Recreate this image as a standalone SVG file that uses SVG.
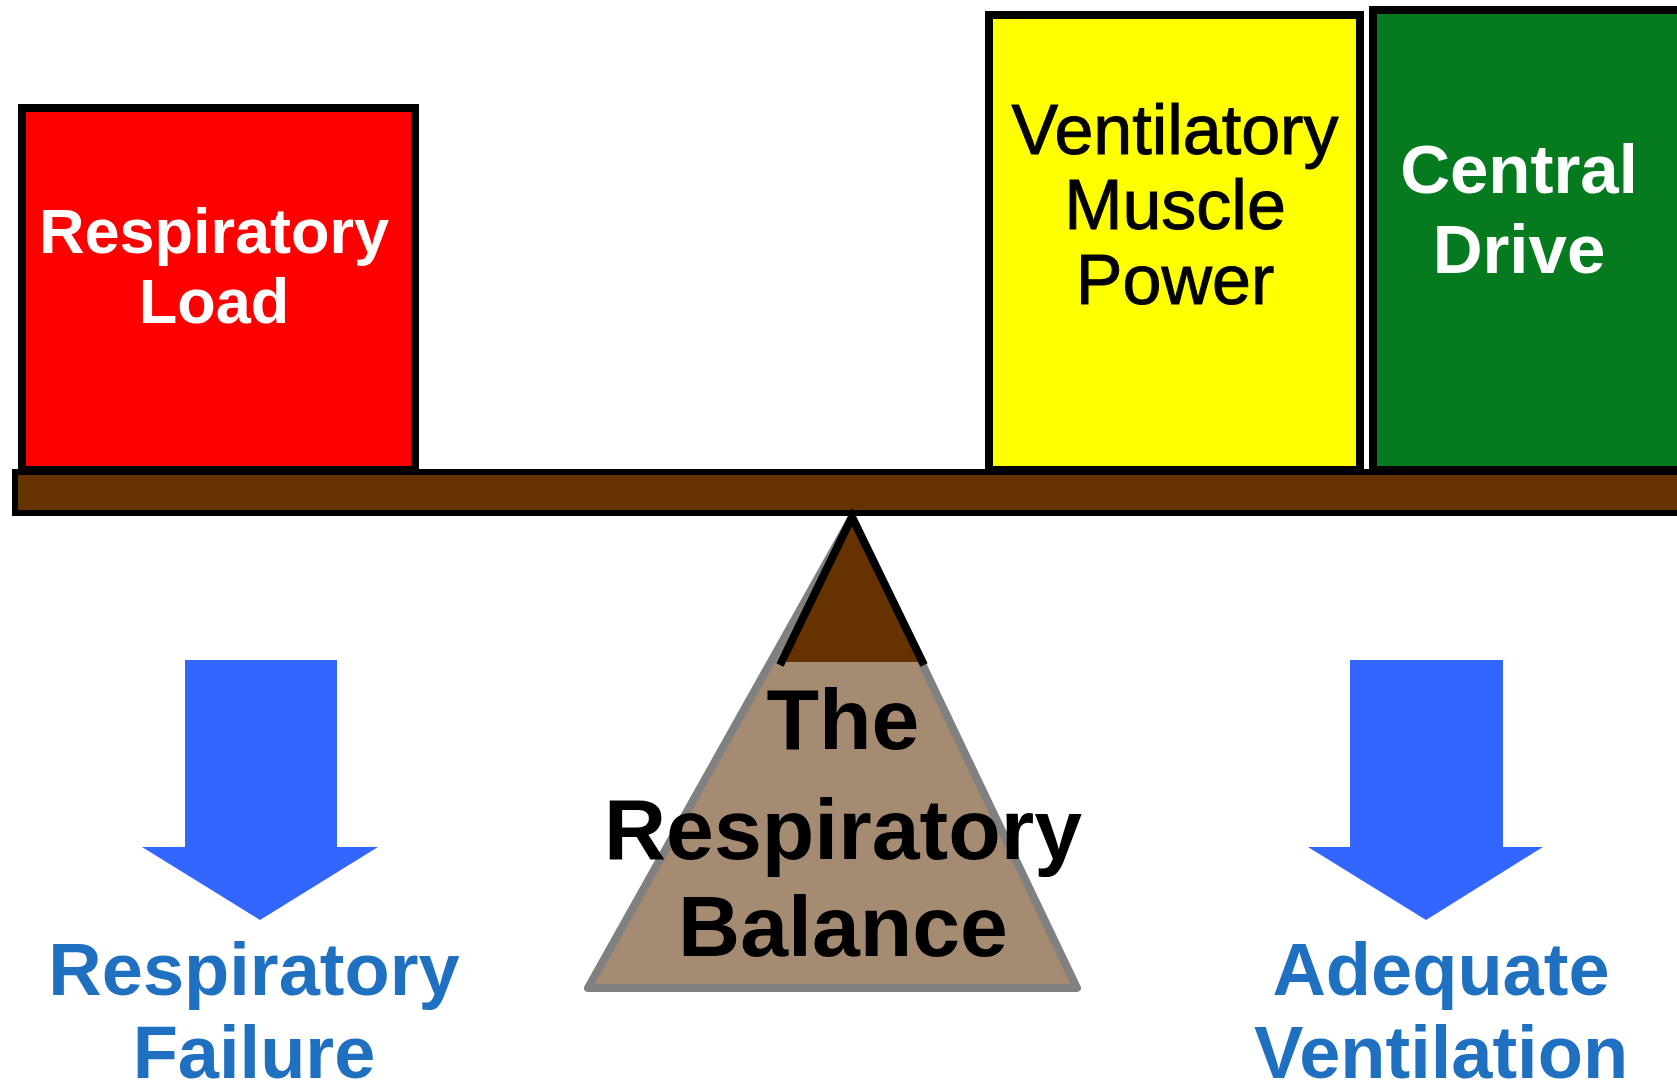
<svg xmlns="http://www.w3.org/2000/svg" width="1677" height="1089" viewBox="0 0 1677 1089">
  <style>
    .box { stroke: #000; stroke-width: 8; }
    .lbl { font-family: "Liberation Sans", Arial, sans-serif; text-anchor: middle; }
    .b { font-weight: bold; }
    .white { fill: #FFFFFF; }
    .med { fill: #000000; stroke: #000000; stroke-width: 1; font-size: 70px; }
    .arrow { fill: #3366FF; }
    .out { fill: #1F70C1; font-weight: bold; font-size: 74px; }
  </style>
  <rect width="1677" height="1089" fill="#FFFFFF"/>

  <!-- weights on the beam -->
  <g id="respiratory-load">
    <rect class="box" x="22" y="108" width="393" height="362" fill="#FF0000"/>
    <text class="lbl b white" font-size="63" x="214" y="253">Respiratory</text>
    <text class="lbl b white" font-size="63" x="214" y="323">Load</text>
  </g>

  <g id="muscle-power">
    <rect class="box" x="989" y="15" width="371" height="455" fill="#FFFF00"/>
    <text class="lbl med" x="1175" y="154">Ventilatory</text>
    <text class="lbl med" x="1175" y="229">Muscle</text>
    <text class="lbl med" x="1175" y="304">Power</text>
  </g>

  <g id="central-drive">
    <rect class="box" x="1373" y="10" width="320" height="460" fill="#067A1F"/>
    <text class="lbl b white" font-size="69" x="1519" y="193">Central</text>
    <text class="lbl b white" font-size="69" x="1519" y="273">Drive</text>
  </g>

  <!-- beam -->
  <g id="beam">
    <rect x="15" y="472" width="1680" height="41" fill="#663300" stroke="#000" stroke-width="6"/>
  </g>

  <!-- fulcrum -->
  <g id="fulcrum">
    <polygon points="852,517 1077,988 588,988" fill="#A58B72" stroke="#808080" stroke-width="8" stroke-linejoin="round"/>
    <polygon points="852,517 922,662 782,662" fill="#663300"/>
    <polyline points="780,665 852,517 924,665" fill="none" stroke="#000" stroke-width="8"/>
    <text class="lbl b" font-size="86" x="843" y="749">The</text>
    <text class="lbl b" font-size="86" x="843" y="859">Respiratory</text>
    <text class="lbl b" font-size="86" x="843" y="956">Balance</text>
  </g>

  <!-- outcome arrows -->
  <g id="connectors">
    <polygon class="arrow" points="185,660 337,660 337,847 378,847 260,920 142,847 185,847"/>
    <polygon class="arrow" points="1350,660 1503,660 1503,847 1543,847 1426,920 1308,847 1350,847"/>
  </g>

  <g id="respiratory-failure">
    <text class="lbl out" x="254" y="995">Respiratory</text>
    <text class="lbl out" x="254" y="1078">Failure</text>
  </g>

  <g id="adequate-ventilation">
    <text class="lbl out" x="1441" y="995">Adequate</text>
    <text class="lbl out" x="1441" y="1078">Ventilation</text>
  </g>
</svg>
